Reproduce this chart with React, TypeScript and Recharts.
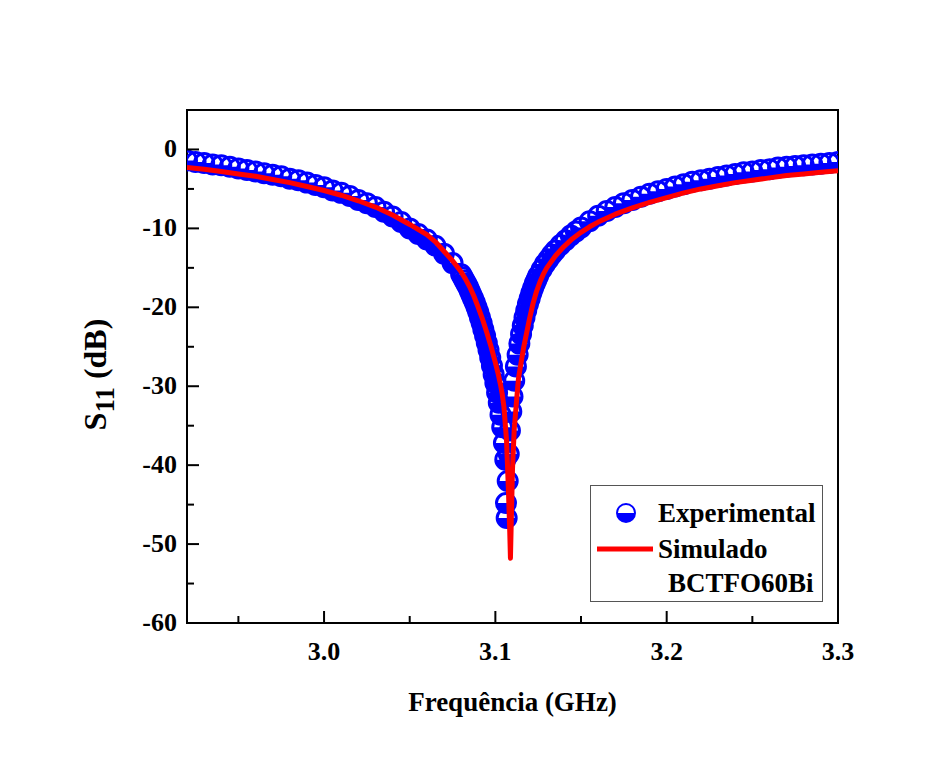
import React from 'react';
import { ComposedChart, Scatter, XAxis, YAxis, ReferenceArea, Legend } from 'recharts';

const serif = '"Liberation Serif", "Times New Roman", serif';

// simulated S11 (red line)
const simFreq = [
  2.92, 2.93, 2.94, 2.95, 2.96, 2.97, 2.98, 2.99, 3.0, 3.01, 3.02, 3.03, 3.04, 3.05, 3.06, 3.065,
  3.07, 3.075, 3.08, 3.0825, 3.085, 3.0875, 3.09, 3.0925, 3.095, 3.0975, 3.1, 3.1015, 3.103, 3.104,
  3.105, 3.1065, 3.1076, 3.1084, 3.1088, 3.1093, 3.11, 3.111, 3.1125, 3.1135, 3.115, 3.1165, 3.118,
  3.12, 3.122, 3.124, 3.126, 3.128, 3.13, 3.135, 3.14, 3.145, 3.15, 3.155, 3.16, 3.17, 3.18, 3.19,
  3.2, 3.21, 3.22, 3.23, 3.24, 3.25, 3.26, 3.27, 3.28, 3.29, 3.3,
];
const simS11 = [
  -2.3, -2.5, -2.8, -3.1, -3.4, -3.8, -4.2, -4.7, -5.2, -5.8, -6.5, -7.3, -8.3, -9.5, -10.8, -11.7,
  -12.9, -14.1, -15.5, -16.4, -17.4, -18.6, -20.0, -21.5, -23.2, -25.0, -27.0, -28.3, -29.8, -31.0,
  -32.6, -36.8, -43.0, -48.5, -51.8, -47.0, -40.5, -35.5, -31.5, -29.0, -27.0, -25.1, -23.5,
  -21.4, -19.5, -18.0, -16.8, -15.8, -15.0, -13.5, -12.3, -11.3, -10.5, -9.8, -9.2, -8.2, -7.4, -6.7,
  -6.1, -5.5, -5.0, -4.6, -4.2, -3.9, -3.6, -3.3, -3.1, -2.9, -2.7,
];

// measured S11 (blue circles)
const expFreq = [
  2.92, 2.925, 2.93, 2.935, 2.94, 2.945, 2.95, 2.955, 2.96, 2.965, 2.97, 2.975, 2.98, 2.985, 2.99,
  2.995, 3.0, 3.005, 3.01, 3.015, 3.02, 3.025, 3.03, 3.035, 3.04, 3.045, 3.05, 3.055, 3.06, 3.065,
  3.07, 3.075, 3.08, 3.081, 3.082, 3.083, 3.084, 3.085, 3.086, 3.087, 3.088, 3.089, 3.09, 3.091,
  3.092, 3.093, 3.094, 3.095, 3.096, 3.097, 3.098, 3.099, 3.1, 3.101, 3.102, 3.103, 3.104, 3.105,
  3.1058, 3.1062, 3.1066, 3.1072, 3.1078, 3.1085, 3.1093, 3.11, 3.111, 3.112, 3.113, 3.114, 3.115,
  3.116, 3.117, 3.118, 3.119, 3.12, 3.121, 3.122, 3.123, 3.124, 3.125, 3.127, 3.129, 3.131, 3.133,
  3.135, 3.138, 3.141, 3.144, 3.147, 3.15, 3.155, 3.16, 3.165, 3.17, 3.175, 3.18, 3.185, 3.19,
  3.195, 3.2, 3.205, 3.21, 3.215, 3.22, 3.225, 3.23, 3.235, 3.24, 3.245, 3.25, 3.255, 3.26, 3.265,
  3.27, 3.275, 3.28, 3.285, 3.29, 3.295, 3.3,
];
const expS11 = [
  -1.4, -1.6, -1.7, -1.9, -2.0, -2.2, -2.4, -2.6, -2.8, -3.0, -3.2, -3.4, -3.7, -3.9, -4.2,
  -4.5, -4.8, -5.2, -5.5, -5.9, -6.4, -6.8, -7.3, -7.9, -8.5, -9.2, -10.0, -10.7, -11.4, -12.2,
  -13.2, -14.4, -15.8, -16.2, -16.6, -17.0, -17.4, -17.9, -18.4, -18.9, -19.4, -20.0, -20.6, -21.3,
  -22.0, -22.8, -23.6, -24.5, -25.4, -26.4, -27.4, -28.5, -29.6, -30.8, -32.1, -33.6, -35.2, -37.2,
  -39.3, -44.8, -46.7, -42.0, -38.6, -35.6, -33.2, -31.3, -29.3, -27.5, -26.0, -24.6, -23.4,
  -22.3, -21.3, -20.4, -19.6, -18.9, -18.2, -17.6, -17.0, -16.5, -16.0, -15.2, -14.5, -13.9, -13.3,
  -12.8, -12.1, -11.5, -10.9, -10.4, -9.9, -9.1, -8.4, -7.8, -7.3, -6.8, -6.4, -6.0, -5.6,
  -5.3, -5.0, -4.7, -4.4, -4.1, -3.9, -3.7, -3.5, -3.3, -3.1, -2.9, -2.8, -2.6, -2.5, -2.3,
  -2.2, -2.1, -2.0, -1.9, -1.8, -1.7, -1.6,
];

const xTicks = [2.95, 3.0, 3.05, 3.1, 3.15, 3.2, 3.25, 3.3];
const yTicks = [-60, -55, -50, -45, -40, -35, -30, -25, -20, -15, -10, -5, 0];

const simData = simFreq.map((f, i) => ({ f, db: simS11[i] }));
const expData = expFreq.map((f, i) => ({ f, db: expS11[i] }));

const isMajorX = (v: number) => Math.abs(v * 10 - Math.round(v * 10)) < 1e-6;

const XTick = ({ x, y, payload }: any) => {
  const major = isMajorX(payload.value);
  return (
    <g>
      <line x1={x} y1={y} x2={x} y2={y - (major ? 12 : 7)} stroke="#000" strokeWidth={2} />
      {major && (
        <text x={x} y={y + 37} textAnchor="middle" fontFamily={serif} fontWeight="bold" fontSize={26} fill="#000">
          {payload.value.toFixed(1)}
        </text>
      )}
    </g>
  );
};

const YTick = ({ x, y, payload }: any) => {
  const major = payload.value % 10 === 0;
  return (
    <g>
      <line x1={x} y1={y} x2={x + (major ? 12 : 7)} y2={y} stroke="#000" strokeWidth={2} />
      {major && (
        <text x={x - 10} y={y + 8} textAnchor="end" fontFamily={serif} fontWeight="bold" fontSize={26} fill="#000">
          {payload.value}
        </text>
      )}
    </g>
  );
};

// half-filled circle: open top, solid bottom
const HalfCircle = ({ cx, cy }: any) => {
  const r = 9.5;
  return (
    <g>
      <circle cx={cx} cy={cy} r={r} fill="none" stroke="#0000ff" strokeWidth={3} />
      <path d={`M${cx - r},${cy} A${r},${r} 0 0 0 ${cx + r},${cy} Z`} fill="#0000ff" />
    </g>
  );
};

const NoDot = () => <g />;

const XTitle = ({ viewBox }: any) => (
  <text x={viewBox.x + viewBox.width / 2} y={viewBox.y + 88} textAnchor="middle" fontFamily={serif} fontWeight="bold" fontSize={27} fill="#000">
    Frequência (GHz)
  </text>
);

const YTitle = ({ viewBox }: any) => {
  const x = viewBox.x + 19;
  const y = viewBox.y + viewBox.height / 2 + 8;
  return (
    <text x={x} y={y} transform={`rotate(-90, ${x}, ${y})`} textAnchor="middle" fontFamily={serif} fontWeight="bold" fontSize={32} fill="#000">
      S<tspan fontSize={27} dy={8}>11</tspan>
      <tspan dy={-8}> (dB)</tspan>
    </text>
  );
};

const LegendBox = () => (
  <div
    style={{
      width: 233,
      height: 117,
      boxSizing: 'border-box',
      border: '1px solid #555',
      background: '#fff',
      position: 'relative',
      fontFamily: serif,
      fontWeight: 'bold',
      fontSize: 27,
      color: '#000',
    }}
  >
    <svg width={24} height={24} style={{ position: 'absolute', left: 23, top: 15 }}>
      <circle cx={12} cy={12} r={9} fill="#fff" stroke="#0000ff" strokeWidth={2} />
      <path d="M3,12 A9,9 0 0 0 21,12 Z" fill="#0000ff" />
    </svg>
    <div style={{ position: 'absolute', left: 67, top: 12, lineHeight: '30px' }}>Experimental</div>
    <svg width={60} height={10} style={{ position: 'absolute', left: 6, top: 58 }}>
      <line x1={0} y1={5} x2={56} y2={5} stroke="#ff0000" strokeWidth={5} />
    </svg>
    <div style={{ position: 'absolute', left: 67, top: 48, lineHeight: '30px' }}>Simulado</div>
    <div style={{ position: 'absolute', left: 77, top: 82, lineHeight: '30px' }}>BCTFO60Bi</div>
  </div>
);

export default function App() {
  return (
    <div style={{ width: 909, height: 742 }}>
      <ComposedChart width={909} height={742} margin={{ top: 102, right: 79, bottom: 47, left: 79 }}>
        <XAxis
          dataKey="f"
          type="number"
          domain={[2.92, 3.3]}
          allowDataOverflow
          ticks={xTicks}
          interval={0}
          height={80}
          tickSize={0}
          tickMargin={0}
          tickLine={false}
          tick={<XTick />}
          axisLine={{ stroke: '#000', strokeWidth: 2 }}
          label={{ content: XTitle }}
        />
        <YAxis
          type="number"
          domain={[-60, 5]}
          allowDataOverflow
          ticks={yTicks}
          interval={0}
          width={100}
          tickSize={0}
          tickMargin={0}
          tickLine={false}
          tick={<YTick />}
          axisLine={{ stroke: '#000', strokeWidth: 2 }}
          label={{ content: YTitle }}
        />
        <ReferenceArea x1={2.92} x2={3.3} y1={-60} y2={5} fill="none" stroke="#000" strokeWidth={2} />
        <Scatter name="Experimental" data={expData} dataKey="db" shape={<HalfCircle />} isAnimationActive={false} />
        <Scatter
          name="Simulado"
          data={simData}
          dataKey="db"
          shape={<NoDot />}
          line={{ stroke: '#ff0000', strokeWidth: 5, strokeLinejoin: 'round' }}
          lineType="joint"
          isAnimationActive={false}
        />
        <Legend
          layout="vertical"
          align="center"
          verticalAlign="middle"
          content={<LegendBox />}
          wrapperStyle={{ left: 582, top: 477, width: 233, height: 117 }}
        />
      </ComposedChart>
    </div>
  );
}
